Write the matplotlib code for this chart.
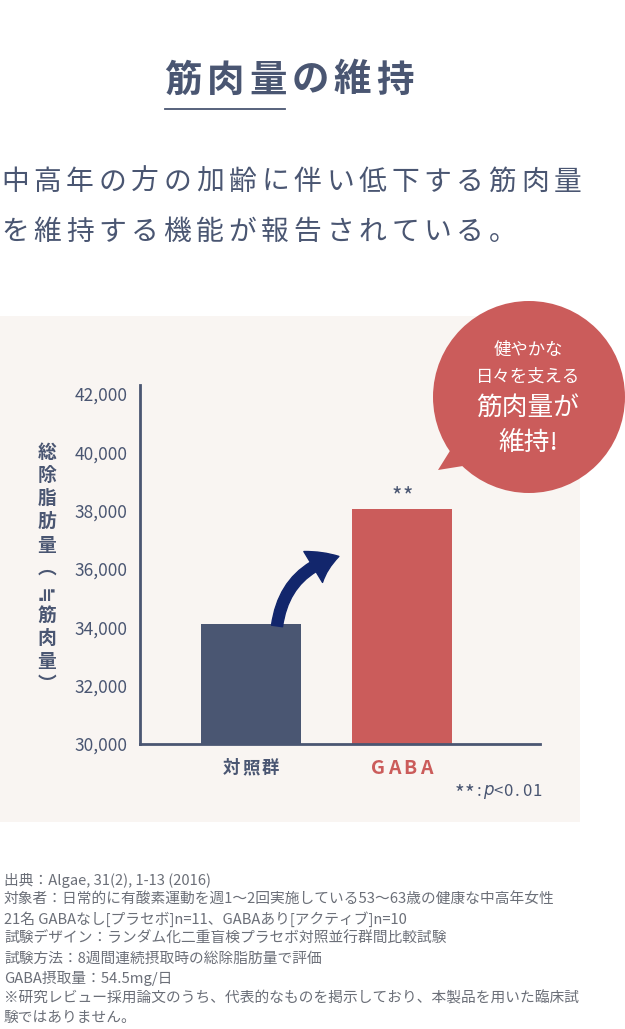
import matplotlib
matplotlib.use('Agg')
import matplotlib.pyplot as plt
from matplotlib.patches import Rectangle, Circle, Polygon, FancyArrowPatch, ArrowStyle

plt.rcParams['font.family'] = ['Noto Sans CJK JP', 'DejaVu Sans']

# data
groups = ['対照群', 'GABA']
values = [34100, 38050]
yticks = [30000, 32000, 34000, 36000, 38000, 40000, 42000]
title = '筋肉量の維持'
lead = ['中高年の方の加齢に伴い低下する筋肉量', 'を維持する機能が報告されている。']
ylabel_chars = ['総', '除', '脂', '肪', '量', '︵', '≒', '筋', '肉', '量', '︶']
bubble_lines = ['健やかな', '日々を支える', '筋肉量が', '維持!']
notes = [
    '出典：Algae, 31(2), 1-13 (2016)',
    '対象者：日常的に有酸素運動を週1〜2回実施している53〜63歳の健康な中高年女性',
    '21名 GABAなし[プラセボ]n=11、GABAあり[アクティブ]n=10',
    '試験デザイン：ランダム化二重盲検プラセボ対照並行群間比較試験',
    '試験方法：8週間連続摂取時の総除脂肪量で評価',
    'GABA摂取量：54.5mg/日',
    '※研究レビュー採用論文のうち、代表的なものを掲示しており、本製品を用いた臨床試',
    '験ではありません。',
]

navy = '#4a5672'
red = '#cb5c5b'
W, H = 625, 1029

fig = plt.figure(figsize=(W / 100, H / 100), dpi=100)
bg = fig.add_axes([0, 0, 1, 1])
bg.set_xlim(0, W)
bg.set_ylim(H, 0)
bg.axis('off')


def spaced(ax, xc, y, s, step, **kw):
    # letter-spaced text centred on xc
    x0 = xc - step * (len(s) - 1) / 2
    for i, ch in enumerate(s):
        ax.text(x0 + i * step, y, ch, ha='center', va='center', **kw)


# title
spaced(bg, 289, 80, title, 42.5, fontsize=27, color=navy, fontweight='bold')
bg.plot([165, 285], [109, 109], color=navy, lw=1.3)

# lead text
spaced(bg, 15 + 32.5 * 17 / 2, 182, lead[0], 32.5, fontsize=20, color=navy)
spaced(bg, 15 + 32.5 * 15 / 2, 232, lead[1], 32.5, fontsize=20, color=navy)

# panel
bg.add_patch(Rectangle((0, 316), 580, 506, color='#f9f5f2', lw=0))

# speech bubble
bg.add_patch(Polygon([[458, 438], [438, 470], [488, 462]], color=red, lw=0))
bg.add_patch(Circle((529, 397), 96, color=red, lw=0))
bg.text(528, 350, bubble_lines[0], ha='center', va='center', fontsize=12.5, color='white')
bg.text(528, 377, bubble_lines[1], ha='center', va='center', fontsize=12.5, color='white')
bg.text(528, 408, bubble_lines[2], ha='center', va='center', fontsize=18.5, color='white')
bg.text(528, 443, bubble_lines[3], ha='center', va='center', fontsize=18.5, color='white')

# vertical y label
for i, ch in enumerate(ylabel_chars):
    rot = 90 if ch == '≒' else 0
    bg.text(47, 452 + i * 23.3, ch, ha='center', va='center', fontsize=13.5,
            color=navy, fontweight='bold', rotation=rot)

# footnotes
for i, line in enumerate(notes):
    bg.text(4, 880 + i * 19.7, line, ha='left', va='center', fontsize=10.6, color='#6b6f78')

# chart
ax = fig.add_axes([140 / W, 1 - 744 / H, 400 / W, 359 / H])
ax.patch.set_alpha(0)
x = [0, 1]
ax.bar(x, values, width=0.66, color=[navy, red], zorder=2)
ax.set_xlim(-0.735, 1.914)
ax.set_ylim(30000, 42300)
ax.set_yticks(yticks)
ax.set_yticklabels([f'{v:,}' for v in yticks], fontsize=12.5, color=navy)
ax.tick_params(axis='y', length=0, pad=9)
ax.set_xticks(x)
ax.set_xticklabels([])
ax.tick_params(axis='x', length=0)
for s in ['top', 'right']:
    ax.spines[s].set_visible(False)
for s in ['left', 'bottom']:
    ax.spines[s].set_color(navy)
    ax.spines[s].set_linewidth(2)

# category labels (letter-spaced)
spaced(bg, 251, 768, groups[0], 19.5, fontsize=12.5, color=navy, fontweight='bold')
spaced(bg, 402, 768, groups[1], 16, fontsize=14, color=red, fontweight='bold')

spaced(bg, 402, 497, '**', 11.5, fontsize=16, color=navy)
sig = ['*', '*', ':', '$p$', '<', '0', '.', '0', '1']
sig_size = [15, 15, 12, 12, 12, 12, 12, 12, 12]
sig_dy = [3, 3, 0, 0, 0, 0, 0, 0, 0]
for i, ch in enumerate(sig):
    bg.text(460 + i * 9.6, 792 + sig_dy[i], ch, ha='center', va='center',
            fontsize=sig_size[i], color=navy)

arrow = FancyArrowPatch((0.17, values[0] - 150), (0.6, 36450),
                        connectionstyle='arc3,rad=-0.35',
                        arrowstyle=ArrowStyle('simple', head_length=20, head_width=26, tail_width=8),
                        color='#12266c', zorder=3, clip_on=False)
ax.add_patch(arrow)

fig.savefig('out.png', dpi=100)
